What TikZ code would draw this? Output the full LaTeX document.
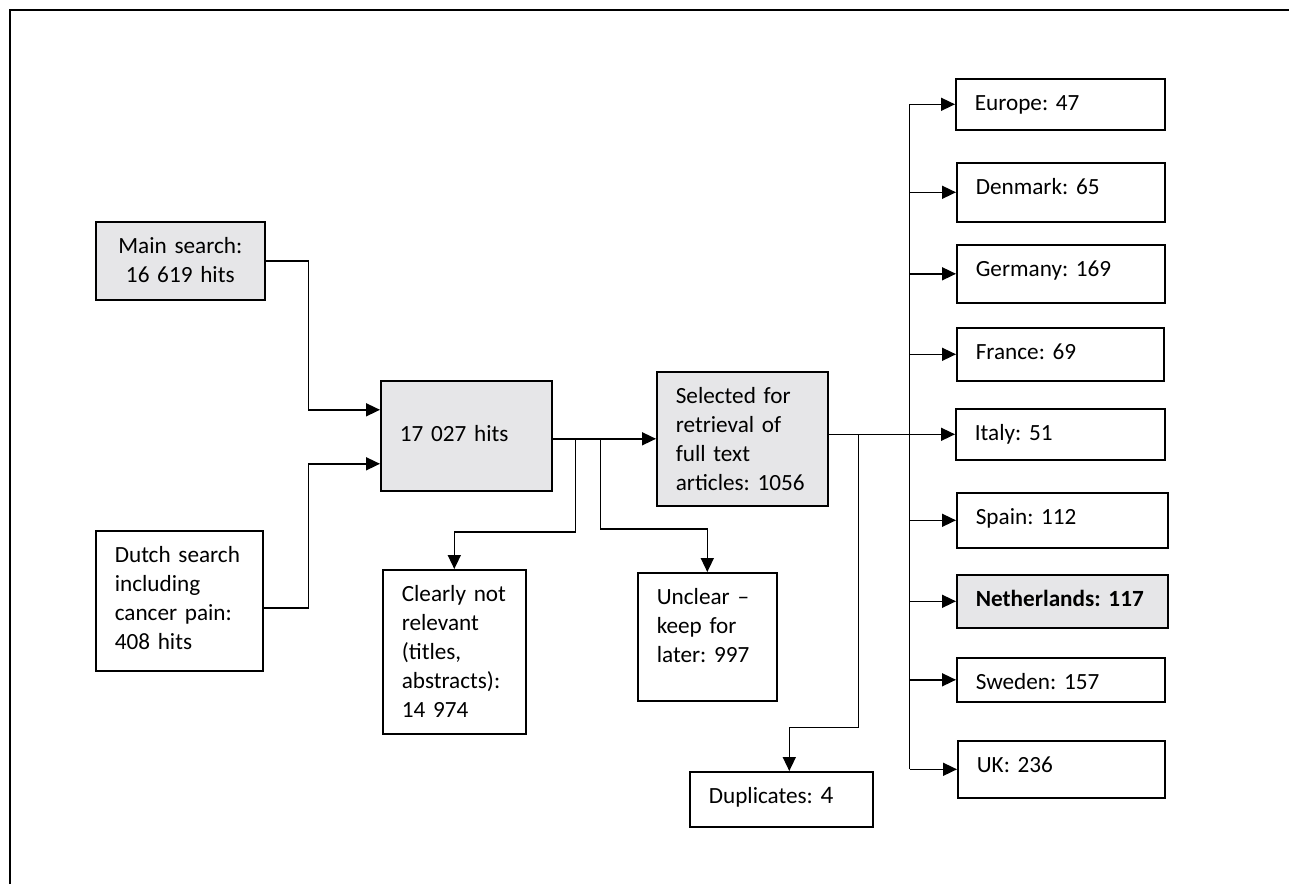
\documentclass[tikz,border=0pt]{standalone}
\usepackage{fontspec}
\setmainfont{Carlito}
\usepackage{xcolor}
\usetikzlibrary{arrows.meta, positioning, calc}
\definecolor{boxgray}{RGB}{230, 230, 232}
\newcommand{\flowfont}{\fontsize{11.6pt}{14.5pt}\selectfont\frenchspacing}
\tikzset{
    box/.style={
        rectangle, draw=black, line width=0.8pt, anchor=north west,
        inner sep=0pt, align=left, text=black, font=\flowfont,
        text height=16pt, execute at begin node={\leftskip=9.5pt}
    },
    graybox/.style={box, fill=boxgray},
    arrow/.style={-{Triangle[length=7pt, width=6.5pt]}, line width=0.8pt},
    link/.style={line width=0.8pt},
    frame/.style={line width=0.7pt},
}

\begin{document}
\begin{tikzpicture}[x=0.5pt, y=-0.5pt]
    \useasboundingbox (0,0) rectangle (1289,884);
    \draw[frame] (10,884) -- (10,10) -- (1289,10);

    % searches
    \node[graybox, align=center, execute at begin node={\centering}, text width=84.5pt, text depth=23pt] (mainsearch) at (95,221) {Main search:\\16 619 hits};
    \node[box, text width=83.5pt, text depth=54pt] (dutch) at (95,530) {Dutch search\\including\\cancer pain:\\408 hits};
    \node[graybox, text width=85.5pt, text height=30.5pt, text depth=24.5pt] (hits) at (380,380) {17 027 hits};

    % screening
    \node[graybox, text width=85.5pt, text depth=51pt] (selected) at (656,371) {Selected for\\retrieval of\\full text\\articles: 1056};
    \node[box, text width=71.5pt, text depth=66pt] (clearly) at (382,569) {Clearly not\\relevant\\(titles,\\abstracts):\\14 974};
    \node[box, text width=69.5pt, text depth=48pt] (unclear) at (637,572) {Unclear --\\keep for\\later: 997};
    \node[box, text width=91.5pt, text depth=11.5pt] (dup) at (689,771) {Duplicates: {\fontsize{12.6pt}{14.5pt}\selectfont 4}};

    % countries
    \node[box, text width=104.5pt, text depth=9.5pt] (europe) at (955,78) {Europe: 47};
    \node[box, text width=104pt, text depth=13.5pt] (denmark) at (956,162) {Denmark: 65};
    \node[box, text width=104pt, text depth=13pt] (germany) at (956,244) {Germany: 169};
    \node[box, text width=103.5pt, text depth=10.5pt] (france) at (956,327) {France: 69};
    \node[box, text width=104.5pt, text depth=9.5pt] (italy) at (955,408) {Italy: 51};
    \node[box, text width=105.5pt, text depth=11.5pt] (spain) at (956,492) {Spain: 112};
    \node[graybox, text width=105.5pt, text depth=10.5pt, font=\flowfont\bfseries] (netherlands) at (956,574) {Netherlands: 117};
    \node[box, text width=104pt, text depth=6pt] (sweden) at (956,657) {Sweden: 157};
    \node[box, text width=103.5pt, text depth=12.5pt] (uk) at (957,740) {UK: 236};

    % connectors
    \draw[arrow] (mainsearch.east) -- ++(43,0) |- ([yshift=13pt]hits.west);
    \draw[arrow] ([yshift=-3.5pt]dutch.east) -- ++(45,0) |- ([yshift=-14pt]hits.west);
    \draw[arrow] (hits.east |- selected.west) -- (selected.west);
    \draw[arrow] ($(hits.east |- selected.west)+(23,0)$) -- ++(0,93) -| (clearly.north);
    \draw[arrow] ($(hits.east |- selected.west)+(48,0)$) -- ++(0,90) -| (unclear.north);

    \draw[arrow] (selected.east |- italy.west) -- (italy.west);
    \draw[arrow] ($(selected.east |- italy.west)+(30,0)$) -- ++(0,293) -| ([xshift=4pt]dup.north);
    \coordinate (trunk) at ($(selected.east)+(81,0)$);
    \draw[link] (trunk |- europe.west) -- (trunk |- uk.west);
    \foreach \c in {europe, denmark, germany, france, spain, netherlands, sweden, uk}
        \draw[arrow] (trunk |- \c.west) -- (\c.west);
\end{tikzpicture}
\end{document}
